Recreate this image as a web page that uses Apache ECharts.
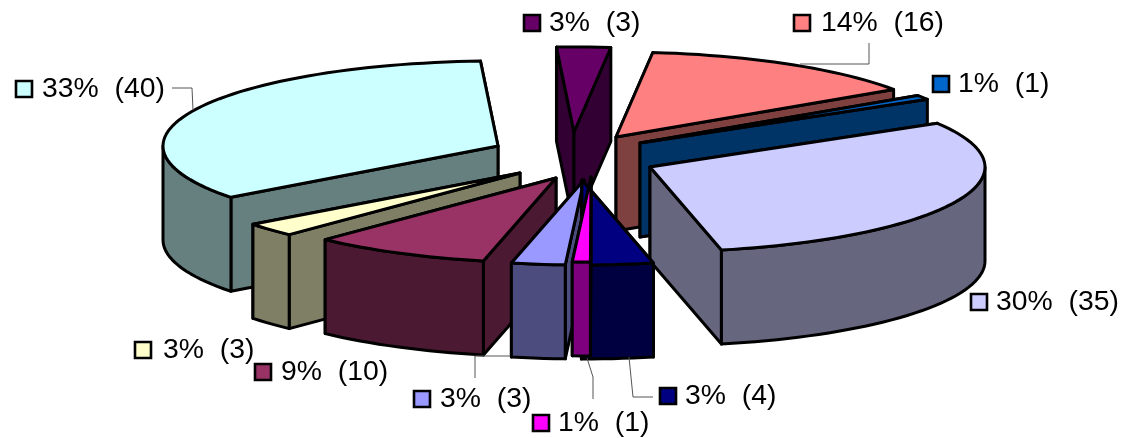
<!DOCTYPE html>
<html>
<head>
<meta charset="utf-8">
<style>html,body{margin:0;padding:0;background:#fff}#chart{width:1126px;height:438px}</style>
<script src="https://cdn.jsdelivr.net/npm/echarts@6/dist/echarts.min.js"></script>
</head>
<body>
<div id="chart"></div>
<script>
// Slice data, clockwise from the top of the pie.
const counts = [3, 16, 1, 35, 4, 1, 3, 10, 3, 40];
const percents = [3, 14, 1, 30, 3, 1, 3, 9, 3, 33];
const colors = ['#660066', '#FF8080', '#0066CC', '#CCCCFF', '#000080',
                '#FF00FF', '#9999FF', '#993366', '#FFFFCC', '#CCFFFF'];

// Painter's order: back slices first, front slices last.
const drawOrder = [0, 1, 2, 3, 9, 8, 7, 6, 4, 5];

// Pie projection.
const pie = { cx: 575, cy: 150, rx: 335, ry: 85, depth: 94, startDeg: -3 };
// Explode offset of each slice from the pie centre.
const explode = [[-1, -18], [41, -13], [65, -7], [75, 17], [7, 30],
                 [16, 27], [9, 30], [-19, 28], [-55, 23], [-77, -4]];

// Legend placement: swatch left edge, row centre, text left edge.
const swatchX = [524, 794, 933, 971, 660, 533, 414, 255, 135, 16];
const rowY    = [23, 23, 84, 302, 396, 423, 399, 372, 350, 89];
const textX   = [549, 821, 958, 996, 685, 558, 440, 281, 163, 42];
const textStretch = 1.05;
// Thin leader lines between a slice and its legend entry.
const leaders = [
  null,
  [[800, 64], [869, 64], [869, 43]],
  null, null,
  [[629, 357], [633, 397], [653, 397]],
  [[587, 358], [593, 377], [593, 399]],
  [[510, 356], [475, 356], [475, 378]],
  null, null,
  [[172, 88], [192, 88], [193, 110]]
];

const total = counts.reduce((a, b) => a + b, 0);
const startAngles = [];
counts.reduce((acc, v, i) => { startAngles[i] = acc; return acc + v / total * 360; }, pie.startDeg);

function halve(hex) {
  const n = parseInt(hex.slice(1), 16);
  const c = s => ((n >> s) & 255) >> 1;
  return 'rgb(' + c(16) + ',' + c(8) + ',' + c(0) + ')';
}

function rimPoint(ax, ay, deg, drop) {
  const t = deg * Math.PI / 180;
  return [ax + pie.rx * Math.sin(t), ay - pie.ry * Math.cos(t) + drop];
}

function arc(ax, ay, from, to, drop) {
  const pts = [];
  const n = Math.max(2, Math.ceil(Math.abs(to - from) / 2));
  for (let k = 0; k <= n; k++) pts.push(rimPoint(ax, ay, from + (to - from) * k / n, drop));
  return pts;
}

function renderItem(params, api) {
  const i = api.value(0);
  const from = startAngles[i];
  const to = from + api.value(1) / total * 360;
  const ax = pie.cx + explode[i][0];
  const ay = pie.cy + explode[i][1];
  const top = colors[i];
  const wall = halve(top);
  const edge = { stroke: '#000', lineWidth: 3, lineJoin: 'round' };
  const face = (points, fill) => ({
    type: 'polygon', shape: { points }, style: Object.assign({ fill }, edge)
  });
  const radialWall = deg => {
    const r = rimPoint(ax, ay, deg, 0);
    const rb = rimPoint(ax, ay, deg, pie.depth);
    return face([[ax, ay], r, rb, [ax, ay + pie.depth]], wall);
  };
  // The radial wall reaching further back is painted first.
  const ordered = rimPoint(ax, ay, from, 0)[1] < rimPoint(ax, ay, to, 0)[1] ? [from, to] : [to, from];
  const children = ordered.map(radialWall);

  // Outer wall only where the rim faces the viewer.
  const a = Math.max(from, 90), b = Math.min(to, 270);
  if (b > a) {
    children.push(face(arc(ax, ay, a, b, 0).concat(arc(ax, ay, b, a, pie.depth)), wall));
  }
  children.push(face([[ax, ay]].concat(arc(ax, ay, from, to, 0)), top));

  // Legend swatch, text and leader line for this slice.
  children.push({
    type: 'rect',
    shape: { x: swatchX[i], y: rowY[i] - 8, width: 16, height: 16 },
    style: { fill: top, stroke: '#000', lineWidth: 2.6 },
    z2: 20
  });
  children.push({
    type: 'text',
    x: textX[i], y: rowY[i] + 1, scaleX: textStretch,
    style: {
      x: 0, y: 0,
      text: percents[i] + '%  (' + counts[i] + ')',
      fill: '#000', font: '27px "Liberation Sans", Arial, sans-serif',
      align: 'left', verticalAlign: 'middle'
    },
    z2: 20
  });
  if (leaders[i]) {
    children.push({
      type: 'polyline',
      shape: { points: leaders[i] },
      style: { fill: 'none', stroke: '#555', lineWidth: 1 },
      z2: 20
    });
  }
  return { type: 'group', children };
}

const chart = echarts.init(document.getElementById('chart'), null, { renderer: 'canvas' });
chart.setOption({
  animation: false,
  backgroundColor: '#fff',
  series: [{
    type: 'custom',
    coordinateSystem: 'none',
    renderItem,
    data: drawOrder.map(i => [i, counts[i]])
  }]
});
</script>
</body>
</html>
